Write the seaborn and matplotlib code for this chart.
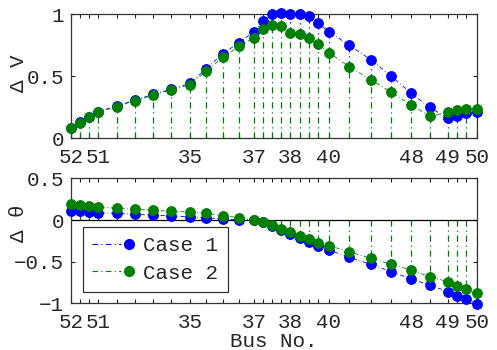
import matplotlib
matplotlib.use('Agg')
import matplotlib.pyplot as plt
import seaborn as sns
from matplotlib.lines import Line2D
from matplotlib.legend_handler import HandlerBase

sns.set_style('ticks')
plt.rcParams['font.family'] = ['Liberation Mono', 'DejaVu Sans Mono']

# 母线位置（按图上的间距）与标签
xpos = [0, 0.5, 1.0, 1.5, 2.5, 3.5, 4.5, 5.5, 6.5, 7.4, 8.3, 9.2, 10.0, 10.5, 11.0,
        11.5, 12.0, 12.5, 13.0, 13.5, 14.1, 15.2, 16.4, 17.5, 18.6, 19.6, 20.6, 21.1, 21.6, 22.2]
tick_labels = ['52', '', '', '51', '', '', '', '', '35', '', '', '', '37', '', '', '',
               '38', '', '', '', '40', '', '', '', '48', '', '49', '', '', '50']

dv_case1 = [0.083, 0.126, 0.172, 0.212, 0.258, 0.306, 0.352, 0.395, 0.44, 0.56, 0.68, 0.77,
            0.857, 0.946, 0.997, 1.01, 0.997, 1.0, 0.986, 0.93, 0.857, 0.75, 0.63, 0.5,
            0.36, 0.248, 0.159, 0.18, 0.2, 0.207]
dv_case2 = [0.08, 0.122, 0.168, 0.208, 0.254, 0.30, 0.346, 0.39, 0.43, 0.54, 0.65, 0.74,
            0.81, 0.876, 0.91, 0.90, 0.85, 0.84, 0.81, 0.76, 0.69, 0.575, 0.47, 0.37,
            0.266, 0.177, 0.207, 0.226, 0.234, 0.234]
dth_case1 = [0.112, 0.104, 0.096, 0.088, 0.08, 0.068, 0.06, 0.048, 0.04, 0.024, 0.012, 0.004,
             0.0, -0.025, -0.072, -0.12, -0.168, -0.22, -0.26, -0.312, -0.36, -0.448, -0.532,
             -0.62, -0.708, -0.78, -0.86, -0.908, -0.952, -1.008]
dth_case2 = [0.188, 0.176, 0.168, 0.16, 0.14, 0.128, 0.116, 0.104, 0.096, 0.08, 0.052, 0.028,
             0.0, -0.02, -0.06, -0.108, -0.148, -0.192, -0.232, -0.272, -0.308, -0.38, -0.46,
             -0.532, -0.6, -0.68, -0.74, -0.788, -0.828, -0.88]

BLUE = (0, 0, 1)
GREEN = (0, 0.5, 0)
FS = 15
DASHDOT = (0, (5, 3, 1, 3))


class StemLegend(HandlerBase):
    # 图例：点划线 + 右端圆点
    def create_artists(self, legend, orig, xdescent, ydescent, width, height, fontsize, trans):
        y = height / 2 - ydescent
        x0 = -xdescent
        ln = Line2D([x0, x0 + width * 0.72], [y, y], color=orig.get_color(),
                    linestyle=DASHDOT, lw=0.8, transform=trans)
        mk = Line2D([x0 + width * 0.92], [y], marker='o', markersize=7, color=orig.get_color(),
                    linestyle='none', transform=trans)
        return [ln, mk]


def stem_panel(ax, y1, y2):
    # 蓝色茎线只在被绿色遮不住的那一段可见
    ax.vlines(xpos, y2, y1, colors=[BLUE], linestyles=[DASHDOT], lw=0.9, zorder=2)
    sns.lineplot(x=xpos, y=y1, ax=ax, color=BLUE, linestyle=DASHDOT, lw=0.6,
                 marker='o', markersize=7, markeredgecolor=BLUE, clip_on=False, zorder=3)
    ax.vlines(xpos, 0, y2, colors=[GREEN], linestyles=[DASHDOT], lw=0.9, zorder=2)
    sns.lineplot(x=xpos, y=y2, ax=ax, color=GREEN, linestyle=DASHDOT, lw=0.6,
                 marker='o', markersize=7, markeredgecolor=GREEN, clip_on=False, zorder=3)
    ax.set_xlim(xpos[0], xpos[-1])
    ax.set_xticks(xpos)
    ax.set_xticklabels(tick_labels)
    ax.tick_params(direction='in', length=3, width=0.8, top=True, right=True,
                   labelsize=FS, pad=5)
    ax.tick_params(axis='x', pad=7)
    for s in ax.spines.values():
        s.set_linewidth(0.9)
        s.set_color('#333333')


fig = plt.figure(figsize=(4.97, 3.5), dpi=100)
ax1 = fig.add_axes([0.1423, 0.6057, 0.818, 0.354])
ax2 = fig.add_axes([0.1423, 0.1334, 0.818, 0.357])

stem_panel(ax1, dv_case1, dv_case2)
ax1.set_ylim(0, 1)
ax1.set_yticks([0, 0.5, 1])
ax1.set_yticklabels(['0', '0.5', '1'])
ax1.set_ylabel('Δ V', fontsize=FS)
ax1.yaxis.set_label_coords(-0.105, 0.52)

stem_panel(ax2, dth_case1, dth_case2)
ax2.axhline(0, color='k', lw=0.9, zorder=2)
ax2.set_ylim(-1, 0.5)
ax2.set_yticks([-1, -0.5, 0, 0.5])
ax2.set_yticklabels(['−1', '−0.5', '0', '0.5'])
ax2.set_ylabel('Δ θ', fontsize=FS)
ax2.yaxis.set_label_coords(-0.105, 0.64)
ax2.set_xlabel('Bus No.', fontsize=FS, labelpad=0)

h1 = Line2D([], [], color=BLUE)
h2 = Line2D([], [], color=GREEN)
leg = ax2.legend([h1, h2], ['Case 1', 'Case 2'], handler_map={Line2D: StemLegend()},
                 loc='lower left', bbox_to_anchor=(0.03, 0.09), borderaxespad=0,
                 fontsize=FS, handlelength=1.9, handletextpad=0.55, labelspacing=0.4,
                 frameon=True, fancybox=False, edgecolor='#333333', framealpha=1,
                 borderpad=0.45)
leg.get_frame().set_linewidth(0.9)

fig.savefig('out.png', dpi=100)
